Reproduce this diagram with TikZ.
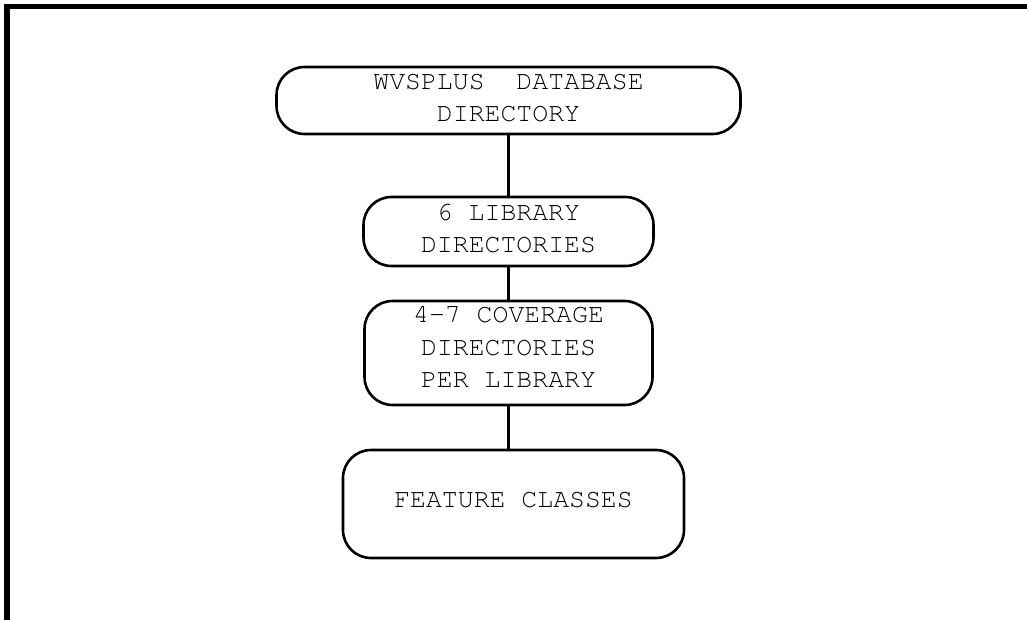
\documentclass[tikz,border=0pt]{standalone}
\usepackage{fontspec}
\newfontfamily\cursorfont{texgyrecursor-regular.otf}
\begin{document}
\begin{tikzpicture}[x=1pt,y=-1pt,
  dirbox/.style={draw, line width=2.6pt, rounded corners=28pt, align=center,
    inner sep=0pt, font=\cursorfont\fontsize{26.5}{32.5}\selectfont},
  link/.style={line width=3pt},
  frame/.style={line width=5.5pt, line join=miter}]
\useasboundingbox (0,0) rectangle (1027,619);
\draw[frame] (7,640) -- (7,6.5) -- (1050,6.5);
\node[dirbox, minimum width=464pt, minimum height=67pt, text depth=5pt] (b1) at (508.5,100.5) {WVSPLUS~~DATABASE\\DIRECTORY};
\node[dirbox, minimum width=290pt, minimum height=69pt, text depth=6pt] (b2) at (508.5,231.5) {6 LIBRARY\\DIRECTORIES};
\node[dirbox, minimum width=288pt, minimum height=104pt, text depth=12pt] (b3) at (508.5,353) {4-7 COVERAGE\\DIRECTORIES\\PER LIBRARY};
\node[dirbox, minimum width=341pt, minimum height=108pt, text depth=8pt] (b4) at (513.5,504) {FEATURE CLASSES};
\draw[link] (b1.south) -- (b2.north);
\draw[link] (b2.south) -- (b3.north);
\draw[link] (b3.south) -- (b3.south |- b4.north);
\end{tikzpicture}
\end{document}
